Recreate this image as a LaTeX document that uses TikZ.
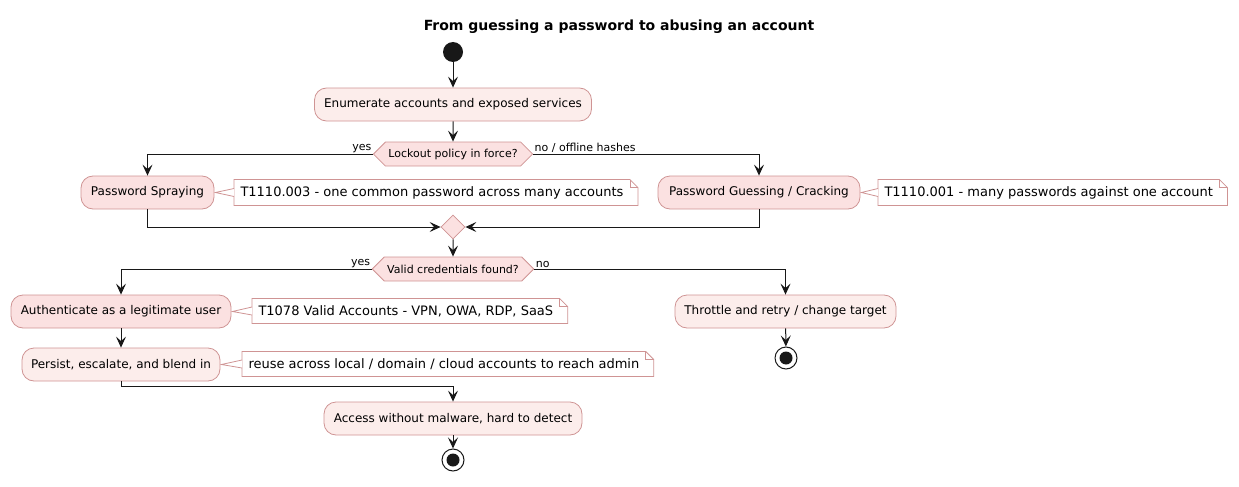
\documentclass[tikz,border=0pt]{standalone}
\usepackage{fontspec}
\setmainfont{DejaVu Sans}
\usetikzlibrary{arrows.meta,shapes.symbols,shapes.geometric,positioning,backgrounds}

\definecolor{actborder}{HTML}{CF9494}
\definecolor{actlight}{HTML}{FCEDEB}
\definecolor{actdark}{HTML}{FBE1E1}
\definecolor{flowcol}{HTML}{181818}

\begin{document}
\begin{tikzpicture}[x=1pt, y=-1pt, line width=1pt,
                    act/.style = {rectangle,
                                  rounded corners=12pt,
                                  draw=actborder, line width=0.8pt,
                                  fill=actlight,
                                  minimum height=33pt,
                                  inner xsep=8pt,
                                  font=\fontsize{12}{14}\selectfont},
                    actstrong/.style = {act, fill=actdark},
                    choice/.style = {signal, signal to=west and east,
                                     signal pointer angle=90,
                                     draw=actborder, line width=0.8pt,
                                     fill=actdark,
                                     minimum height=24pt,
                                     inner xsep=3pt, inner ysep=2pt,
                                     font=\fontsize{11}{13}\selectfont},
                    merge/.style = {diamond, draw=actborder, line width=0.8pt,
                                    fill=actdark, inner sep=0pt,
                                    minimum size=24pt},
                    note/.style = {anchor=west, inner xsep=6pt,
                                   minimum height=25pt,
                                   font=\fontsize{13}{15}\selectfont},
                    flow/.style = {draw=flowcol,
                                   -{Stealth[length=11pt, width=10pt, inset=4.5pt]}},
                    lbl/.style = {inner sep=1pt, font=\fontsize{11}{13}\selectfont}]

  \useasboundingbox (0,0) rectangle (1239,487);

  % Title
  \node[font=\fontsize{14}{16}\selectfont\bfseries] (title) at (619,27)
    {From guessing a password to abusing an account};

  % Start
  \node[circle, fill=flowcol, minimum size=20pt, inner sep=0pt] (start) at (453,52) {};

  % Enumeration
  \node[act, minimum width=277pt] (enum) at (453,104.5) {Enumerate accounts and exposed services};

  % First decision
  \node[choice, minimum width=154pt] (lock) at (453,154) {Lockout policy in force?};

  % Two attack branches
  \node[actstrong, minimum width=133pt] (spray) at (147.5,192.5) {Password Spraying};
  \node[note] (tspray) at (234,192.5) {T1110.003 - one common password across many accounts};

  \node[actstrong, minimum width=202pt] (guess) at (759,192.5) {Password Guessing / Cracking};
  \node[note] (tguess) at (878,192.5) {T1110.001 - many passwords against one account};

  % Merge
  \node[merge] (join) at (453,227) {};

  % Second decision
  \node[choice, minimum width=154pt] (valid) at (453,269) {Valid credentials found?};

  % Success branch
  \node[actstrong, minimum width=220pt] (auth) at (121,311.5) {Authenticate as a legitimate user};
  \node[note, minimum height=24pt] (tauth) at (252,311) {T1078 Valid Accounts - VPN, OWA, RDP, SaaS};

  \node[act, minimum width=198pt] (persist) at (121,364.5) {Persist, escalate, and blend in};
  \node[note, minimum height=24pt] (tpersist) at (242,364) {reuse across local / domain / cloud accounts to reach admin};

  \coordinate (bend) at (453,386);
  \node[act, minimum width=258pt] (access) at (453,418.5) {Access without malware, hard to detect};

  % Failure branch
  \node[act, minimum width=221pt] (retry) at (785.5,311.5) {Throttle and retry / change target};

  % Stops
  \foreach \s/\x/\y in {stopa/453/460, stopb/786/358} {
    \node[circle, draw=flowcol, fill=white, minimum size=22pt, inner sep=0pt] (\s) at (\x,\y) {};
    \fill[flowcol] (\s.center) circle (6.5pt);
  }

  % Note outlines
  \begin{scope}[on background layer]
    \foreach \n in {tspray,tguess,tauth,tpersist} {
      \draw[actborder, line width=0.8pt, fill=white]
        (\n.south west) -- (\n.north west) -- ([xshift=0pt]\n.north east)
        -- ([xshift=8pt, yshift=-8pt]\n.north east) -- ([xshift=8pt]\n.south east) -- cycle;
      \draw[actborder, line width=0.8pt]
        (\n.north east) |- ([xshift=8pt, yshift=-8pt]\n.north east);
    }
    \foreach \a/\n in {spray/tspray, guess/tguess, auth/tauth, persist/tpersist} {
      \filldraw[draw=actborder, line width=0.8pt, fill=white]
        ([yshift=4pt]\n.west) -- ([xshift=1pt]\a.east) -- ([yshift=-4pt]\n.west);
    }
  \end{scope}

  % Connectors
  \draw[flow] (start) -- (enum);
  \draw[flow] (enum) -- (lock);
  \draw[flow] (lock.west) -| (spray.north);
  \draw[flow] (lock.east) -| (guess.north);
  \draw[flow] (spray.south) |- (join.west);
  \draw[flow] (guess.south) |- (join.east);
  \draw[flow] (join) -- (valid);
  \draw[flow] (valid.west) -| (auth.north);
  \draw[flow] (valid.east) -| (retry.north);
  \draw[flow] (auth) -- (persist);
  \draw[flow] (persist.south) |- (bend) -- (access.north);
  \draw[flow] (access) -- (stopa);
  \draw[flow] (retry) -- (stopb);

  % Branch labels
  \node[lbl, anchor=south east] (lyes) at (lock.west) {yes};
  \node[lbl, anchor=south west] (lno) at (lock.east) {no / offline hashes};
  \node[lbl, anchor=south east] (vyes) at (valid.west) {yes};
  \node[lbl, anchor=south west] (vno) at (valid.east) {no};

\end{tikzpicture}
\end{document}
